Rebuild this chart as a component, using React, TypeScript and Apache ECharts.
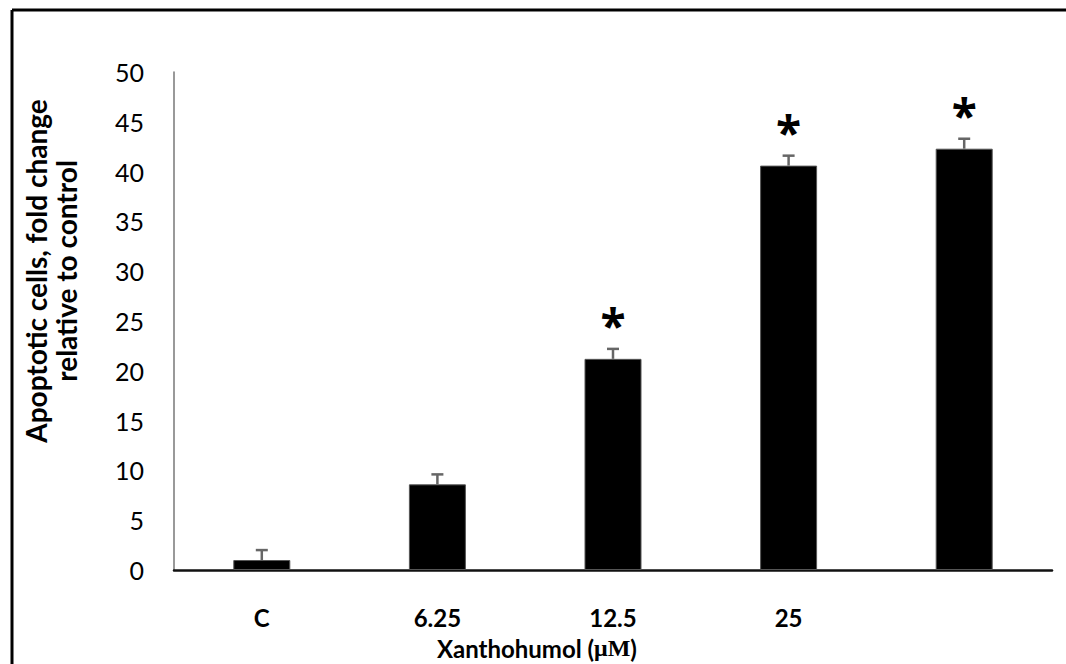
import React, { useEffect, useRef } from "react";
import * as echarts from "echarts";

const categories = ["C", "6.25", "12.5", "25", ""];
const values = [1.0, 8.6, 21.2, 40.6, 42.3];
const errors = [1.0, 1.0, 1.0, 1.0, 1.0];
const marks = ["", "", "*", "*", "*"];
const yTicks = [0, 5, 10, 15, 20, 25, 30, 35, 40, 45, 50];

const FONT = "Lato, 'Open Sans', sans-serif";

export default function App() {
  const ref = useRef<HTMLDivElement>(null);
  useEffect(() => {
    document.body.style.margin = "0";
    const chart = echarts.init(ref.current!, undefined, { renderer: "svg" });
    chart.setOption({
      animation: false,
      backgroundColor: "#fff",
      grid: { left: 174, right: 14, top: 72, bottom: 94 },
      xAxis: {
        type: "category",
        data: categories,
        axisLine: { lineStyle: { color: "#111", width: 2.5 } },
        axisTick: { show: false },
        axisLabel: {
          margin: 35,
          fontSize: 24,
          fontWeight: "bold",
          color: "#000",
          fontFamily: FONT,
        },
      },
      yAxis: {
        type: "value",
        min: yTicks[0],
        max: yTicks[yTicks.length - 1],
        interval: 5,
        splitLine: { show: false },
        axisLine: { show: true, lineStyle: { color: "#777", width: 1.5 } },
        axisTick: { show: false },
        axisLabel: { margin: 30, fontSize: 25, color: "#000", fontFamily: FONT },
      },
      graphic: [
        { type: "line", shape: { x1: 12, y1: 10, x2: 1066, y2: 10 }, style: { stroke: "#000", lineWidth: 3 } },
        { type: "line", shape: { x1: 12, y1: 10, x2: 12, y2: 664 }, style: { stroke: "#000", lineWidth: 3 } },
        {
          type: "text",
          x: 51,
          y: 271,
          rotation: Math.PI / 2,
          style: {
            text: "Apoptotic cells, fold change\nrelative to control",
            fontSize: 28,
            fontWeight: "bold",
            fontFamily: FONT,
            fill: "#000",
            align: "center",
            verticalAlign: "middle",
            lineHeight: 30,
          },
        },
        {
          type: "text",
          x: 537,
          y: 648,
          style: {
            text: "{a|Xanthohumol (}{b|μM}{a|)}",
            rich: {
              a: { fontSize: 24, fontWeight: "bold", fontFamily: FONT, fill: "#000" },
              b: { fontSize: 24, fontWeight: "bold", fontFamily: "'Liberation Serif', serif", fill: "#000" },
            },
            align: "center",
            verticalAlign: "middle",
          },
        },
      ],
      series: [
        {
          type: "bar",
          data: values,
          barWidth: 57,
          itemStyle: { color: "#000", borderColor: "#555", borderWidth: 1 },
        },
        {
          type: "custom",
          data: values.map((v, i) => [i, v, errors[i]]),
          renderItem: (params: any, api: any) => {
            const i = api.value(0);
            const v = api.value(1);
            const e = api.value(2);
            const m = marks[i];
            const base = api.coord([i, v]);
            const top = api.coord([i, v + e]);
            const cw = 6;
            const children: any[] = [
              { type: "line", shape: { x1: base[0], y1: base[1], x2: top[0], y2: top[1] }, style: { stroke: "#666", lineWidth: 2.5 } },
              { type: "line", shape: { x1: top[0] - cw, y1: top[1], x2: top[0] + cw, y2: top[1] }, style: { stroke: "#666", lineWidth: 2.5 } },
            ];
            if (m) {
              children.push({
                type: "text",
                x: top[0],
                y: top[1] - 24,
                style: {
                  text: m,
                  fontSize: 46,
                  fontWeight: "bold",
                  fontFamily: "'Open Sans', sans-serif",
                  fill: "#000",
                  align: "center",
                  verticalAlign: "middle",
                },
              });
            }
            return { type: "group", children };
          },
          z: 5,
        },
      ],
    });
    return () => chart.dispose();
  }, []);
  return <div ref={ref} style={{ width: 1066, height: 664 }} />;
}
